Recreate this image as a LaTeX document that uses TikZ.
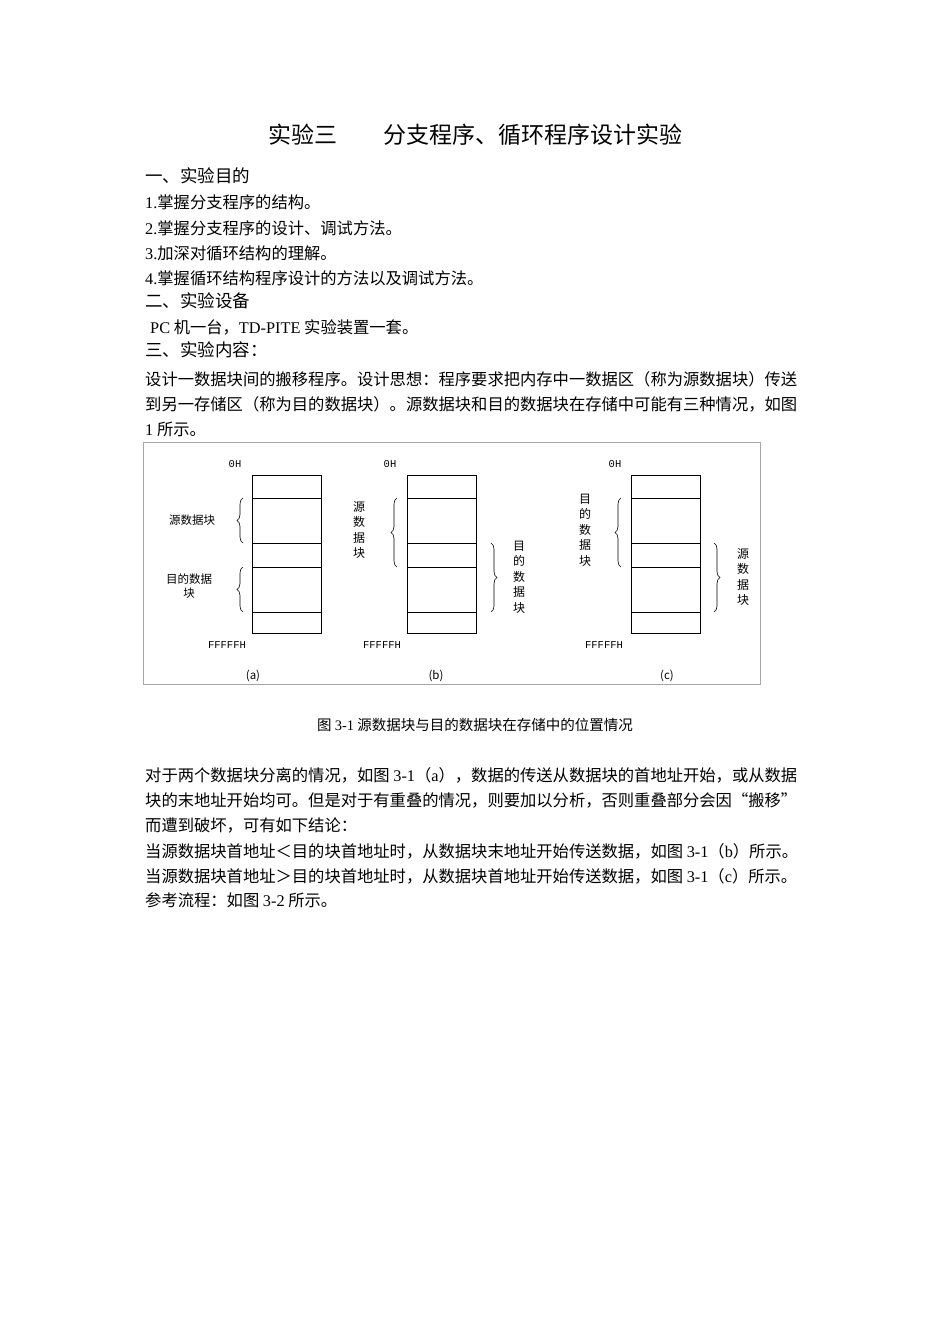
\documentclass[tikz,border=0pt]{standalone}
\usepackage{fontspec}
\setmainfont{Noto Sans CJK SC}
\newfontfamily\lt{Liberation Serif}
\newfontfamily\mono{Liberation Mono}
\usetikzlibrary{decorations.pathreplacing}
\begin{document}
\begin{tikzpicture}[x=1pt,y=-1pt,
  body/.style={anchor=west,inner sep=0pt,font=\fontsize{16.3}{17}\selectfont},
  head/.style={anchor=west,inner sep=0pt,font=\fontsize{17.5}{18}\selectfont},
  lab/.style={inner sep=0pt,font=\fontsize{11.5}{14}\selectfont,align=center},
  addr/.style={inner sep=0pt,font=\mono\fontsize{10.5}{10}\selectfont},
  mem/.style={draw,line width=0.7pt},
  brc/.style={decorate,decoration={brace,amplitude=6pt},line width=0.6pt}]
\useasboundingbox[fill=white] (0,0) rectangle (950,1344);
\node[inner sep=0pt,font=\fontsize{23}{24}\selectfont] (title) at (475,135) {实验三\quad\quad 分支程序、循环程序设计实验};
\node[head] (h1) at (145,176) {一、实验目的};
\node[body] (l1) at (145,202) {{\lt 1.}掌握分支程序的结构。};
\node[body] (l2) at (145,228) {{\lt 2.}掌握分支程序的设计、调试方法。};
\node[body] (l3) at (145,253) {{\lt 3.}加深对循环结构的理解。};
\node[body] (l4) at (145,278) {{\lt 4.}掌握循环结构程序设计的方法以及调试方法。};
\node[head] (h2) at (145,301) {二、实验设备};
\node[body] (l5) at (150,327) {{\lt PC} 机一台，{\lt TD-PITE} 实验装置一套。};
\node[head] (h3) at (145,350) {三、实验内容：};
\node[body] (p1) at (145,379) {设计一数据块间的搬移程序。设计思想：程序要求把内存中一数据区（称为源数据块）传送};
\node[body] (p2) at (145,404) {到另一存储区（称为目的数据块）。源数据块和目的数据块在存储中可能有三种情况，如图};
\node[body] (p3) at (145,429) {{\lt 1} 所示。};
% figure
\draw[line width=0.6pt,black!35] (143,442) rectangle (760,684);
\foreach \n/\x in {a/252,b/407,c/631}{
  \draw[mem] (\x,475) rectangle (\x+69,633);
  \foreach \yy in {498,543,567,612}{\draw[mem] (\x,\yy) -- (\x+69,\yy);}
}
\node[addr] (oa) at (235,464) {0H};
\node[addr] (ob) at (390,464) {0H};
\node[addr] (oc) at (615,464) {0H};
\node[addr] (fa) at (227,645) {FFFFFH};
\node[addr] (fb) at (382,645) {FFFFFH};
\node[addr] (fc) at (604,645) {FFFFFH};
\node[lab] (ca) at (253,676) {(a)};
\node[lab] (cb) at (436,676) {(b)};
\node[lab] (cc) at (667,676) {(c)};
% (a)
\draw[brc] (243,543) -- (243,498);
\draw[brc] (243,612) -- (243,567);
\node[lab] (sa) at (192,520) {源数据块};
\node[lab] (da) at (189,586) {目的数据\\块};
% (b)
\draw[brc] (397,567) -- (397,498);
\draw[brc] (491,543) -- (491,612);
\node[lab,font=\fontsize{12}{15.5}\selectfont] (sb) at (359,530) {源\\数\\据\\块};
\node[lab,font=\fontsize{12}{15.5}\selectfont] (db) at (519,577) {目\\的\\数\\据\\块};
% (c)
\draw[brc] (621,567) -- (621,498);
\draw[brc] (714,543) -- (714,612);
\node[lab,font=\fontsize{12}{15.5}\selectfont] (dc) at (585,530) {目\\的\\数\\据\\块};
\node[lab,font=\fontsize{12}{15.5}\selectfont] (sc) at (743,577) {源\\数\\据\\块};
\node[inner sep=0pt,font=\fontsize{14.5}{15}\selectfont] (cap) at (475,725) {图 {\lt 3-1} 源数据块与目的数据块在存储中的位置情况};
\node[body] (q1) at (145,775) {对于两个数据块分离的情况，如图 {\lt 3-1}（{\lt a}），数据的传送从数据块的首地址开始，或从数据};
\node[body] (q2) at (145,800) {块的末地址开始均可。但是对于有重叠的情况，则要加以分析，否则重叠部分会因“搬移”};
\node[body] (q3) at (145,825) {而遭到破坏，可有如下结论：};
\node[body] (q4) at (145,851) {当源数据块首地址＜目的块首地址时，从数据块末地址开始传送数据，如图 {\lt 3-1}（{\lt b}）所示。};
\node[body] (q5) at (145,876) {当源数据块首地址＞目的块首地址时，从数据块首地址开始传送数据，如图 {\lt 3-1}（{\lt c}）所示。};
\node[body] (q6) at (145,900) {参考流程：如图 {\lt 3-2} 所示。};
\end{tikzpicture}
\end{document}
